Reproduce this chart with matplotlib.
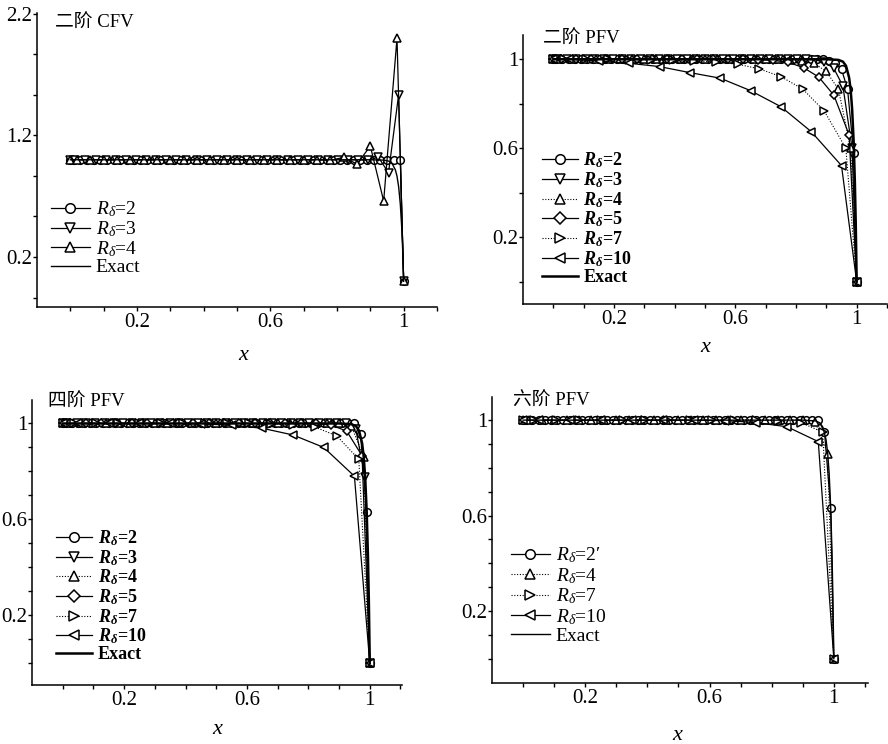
import numpy as np
import matplotlib.pyplot as plt

plt.rcParams['font.family'] = ['Liberation Serif', 'Noto Sans CJK SC', 'DejaVu Sans']
plt.rcParams['mathtext.fontset'] = 'custom'
plt.rcParams['mathtext.rm'] = 'Liberation Serif'
plt.rcParams['mathtext.it'] = 'Liberation Serif:italic'
plt.rcParams['mathtext.bf'] = 'Liberation Serif:italic:bold'

# number of cells for each cell Reynolds number (eps ~ 0.01)
cells = {2: 50, 3: 33, 4: 25, 5: 20, 7: 14, 10: 10}

# exact solution
exact_x = [0.0, 0.9, 0.94, 0.955, 0.965, 0.975, 0.98, 0.985, 0.99, 0.994, 0.997, 1.0]
exact_y = [1.0, 1.0, 0.997, 0.989, 0.97, 0.918, 0.865, 0.777, 0.632, 0.45, 0.26, 0.0]

# values near x = 1; everything before is on the plateau u = 1
cfv2 = {
    2: [0.0],
    3: [0.996, 1.021, 0.893, 1.535, 0.0],
    4: [0.995, 1.02, 0.965, 1.113, 0.66, 2.0, 0.0],
}
pfv2 = {
    2: [0.993, 0.985, 0.955, 0.865, 0.58, 0.0],
    3: [0.997, 0.987, 0.96, 0.88, 0.6, 0.0],
    4: [0.998, 0.993, 0.982, 0.945, 0.865, 0.6, 0.0],
    5: [0.998, 0.995, 0.986, 0.962, 0.92, 0.838, 0.66, 0.0],
    7: [1.0, 1.0, 1.0, 0.999, 0.998, 0.997, 0.995, 0.992, 0.988, 0.978, 0.957,
        0.922, 0.867, 0.768, 0.6, 0.0],
    10: [1.0, 1.0, 0.992, 0.982, 0.967, 0.94, 0.915, 0.859, 0.787, 0.675, 0.522, 0.0],
}
pfv4 = {
    2: [0.955, 0.63, 0.0],
    3: [0.975, 0.775, 0.0],
    4: [0.99, 0.86, 0.0],
    5: [0.993, 0.968, 0.865, 0.0],
    7: [0.998, 0.995, 0.985, 0.948, 0.85, 0.0],
    10: [0.998, 0.993, 0.98, 0.952, 0.9, 0.78, 0.0],
}
pfv6 = {
    2: [0.95, 0.633, 0.0],
    4: [0.993, 0.86, 0.0],
    7: [0.997, 0.99, 0.95, 0.0],
    10: [0.998, 0.99, 0.972, 0.91, 0.0],
}

dotted = (0, (1, 1.5))
styles = {
    2: dict(marker='o', ls='-', lw=0.9),
    3: dict(marker='v', ls='-', lw=0.9),
    4: dict(marker='^', ls=dotted, lw=0.8),
    5: dict(marker='D', ls='-', lw=0.9, ms=4.5),
    7: dict(marker='>', ls=dotted, lw=0.8),
    10: dict(marker='<', ls='-', lw=0.9),
}


def node_x(n):
    # boundary nodes plus cell centres
    return np.concatenate([[0.0], (np.arange(n) + 0.5) / n, [1.0]])


def node_y(n, tail):
    return [1.0] * (n + 2 - len(tail)) + tail


W, H = 888, 744
fig = plt.figure(figsize=(W / 100, H / 100), dpi=100)


def make_axes(left, top, right, bottom):
    return fig.add_axes([left / W, 1 - bottom / H, (right - left) / W, (bottom - top) / H])


def style_axes(ax, xlim, ylim, yticks, ylabels, xticks, xlabels):
    ax.set_xlim(*xlim)
    ax.set_ylim(*ylim)
    for s in ('top', 'right'):
        ax.spines[s].set_visible(False)
    for s in ('left', 'bottom'):
        ax.spines[s].set_linewidth(1.1)
    ax.set_xticks(xticks, xlabels)
    ax.set_yticks(yticks, ylabels)
    ax.tick_params(direction='out', length=3, width=1, labelsize=15)
    ax.tick_params(axis='y', pad=0.5)
    ax.tick_params(axis='x', pad=1.5)


def draw(ax, series, bold, legend_anchor, bold_exact=False, prime=False,
         all_solid=False, fs=13, spacing=0.0):
    for r, tail in series.items():
        st = dict(styles[r])
        ms = st.pop('ms', 5.5)
        if all_solid:
            st['ls'] = '-'
            st['lw'] = 0.9
        n = cells[r]
        if bold:
            lab = r'$\mathbf{R}_{\mathbf{\delta}}$=%d' % r
        else:
            lab = r'$R_{\delta}$=%d' % r
        if prime and r == 2:
            lab += '\u2032'
        ax.plot(node_x(n), node_y(n, tail), color='black', mfc='white', mec='black',
                mew=1.1, ms=ms, label=lab, **st)
    ax.plot(exact_x, exact_y, color='black', lw=1.8 if bold_exact else 1.0, label='Exact')
    ax.legend(loc='upper left', bbox_to_anchor=legend_anchor, frameon=False,
              borderpad=0, borderaxespad=0, handlelength=2.0, handletextpad=0.3,
              labelspacing=spacing, markerscale=1.25, numpoints=1,
              prop=dict(size=fs, weight='bold' if bold else 'normal'))


xt = [round(0.1 * i, 1) for i in range(12)]
xl = ['', '', '0.2', '', '', '', '0.6', '', '', '', '1', '']

# 二阶 CFV
ax1 = make_axes(37, 13, 437, 307)
draw(ax1, cfv2, False, (0.035, 0.365), all_solid=True, fs=14, spacing=0.0)
style_axes(ax1, (-0.1, 1.076), (-0.211, 2.207),
           [0.2 - 1 / 3, 0.2, 0.2 + 1 / 3, 0.2 + 2 / 3, 1.2, 1.2 + 1 / 3, 1.2 + 2 / 3, 2.2],
           ['', '0.2', '', '', '1.2', '', '', '2.2'], xt, xl)
ax1.text(0.045, 0.965, '二阶 CFV', transform=ax1.transAxes, fontsize=13.5, va='center')

# 二阶 PFV
ax2 = make_axes(523, 35, 887, 304)
draw(ax2, pfv2, True, (0.052, 0.57), bold_exact=True, fs=13, spacing=0.0)
style_axes(ax2, (-0.1, 1.087), (-0.1, 1.109), [0, 0.2, 0.4, 0.6, 0.8, 1.0],
           ['', '0.2', '', '0.6', '', '1'], xt, xl)
ax2.text(0.055, 0.985, '二阶 PFV', transform=ax2.transAxes, fontsize=13.5, va='center')

yt = [round(0.1 * i, 1) for i in range(11)]
yl = ['', '', '0.2', '', '', '', '0.6', '', '', '', '1']

# 四阶 PFV
ax3 = make_axes(32, 400, 402, 685)
draw(ax3, pfv4, True, (0.065, 0.55), bold_exact=True, fs=13, spacing=0.0)
style_axes(ax3, (-0.1, 1.105), (-0.092, 1.098), yt, yl, xt, xl)
ax3.text(0.043, 0.99, '四阶 PFV', transform=ax3.transAxes, fontsize=13.5, va='center')

# 六阶 PFV
ax4 = make_axes(492, 397, 868, 683)
draw(ax4, pfv6, False, (0.05, 0.48), prime=True, fs=14, spacing=0.04)
style_axes(ax4, (-0.1, 1.11), (-0.102, 1.097), yt, yl, xt, xl)
ax4.text(0.056, 0.985, '六阶 PFV', transform=ax4.transAxes, fontsize=13.5, va='center')

for px, py in [(243, 355), (705, 348), (217, 730), (677, 735)]:
    fig.text(px / W, 1 - py / H, 'x', fontsize=16, style='italic', ha='center', va='center')

fig.savefig('out.png', dpi=100)
